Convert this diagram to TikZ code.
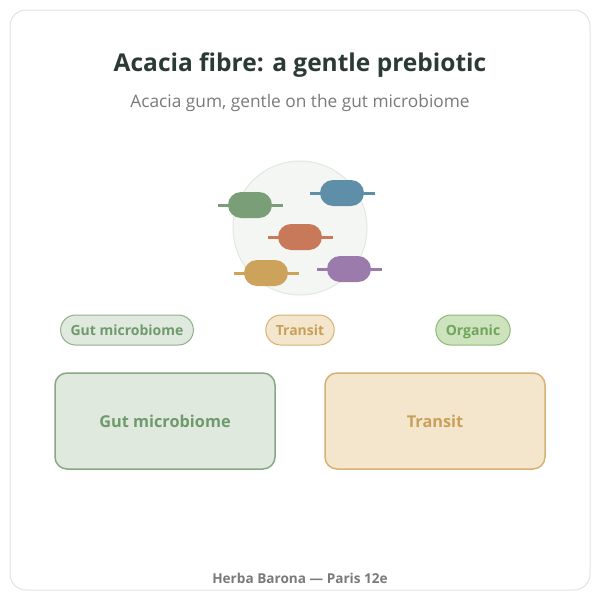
\documentclass[tikz,border=0pt]{standalone}
\usepackage{fontspec}
\setmainfont{Open Sans}
\usetikzlibrary{positioning}
\definecolor{titlecol}{HTML}{2B3A33}
\definecolor{subcol}{HTML}{7A7A7A}
\definecolor{framecol}{HTML}{E2E2E2}
\definecolor{cellfill}{HTML}{F3F6F3}
\definecolor{celledge}{HTML}{E0E8E0}
\definecolor{bgreen}{HTML}{7A9E78}
\definecolor{bblue}{HTML}{5F8EA8}
\definecolor{bred}{HTML}{C8795A}
\definecolor{byellow}{HTML}{CDA35C}
\definecolor{bpurple}{HTML}{9A7BAB}
\definecolor{gutfill}{HTML}{DFE9DE}
\definecolor{gutedge}{HTML}{8FB08C}
\definecolor{guttext}{HTML}{6F9A6C}
\definecolor{trfill}{HTML}{F3E6CC}
\definecolor{tredge}{HTML}{D7B173}
\definecolor{trtext}{HTML}{C9A05A}
\definecolor{orgfill}{HTML}{CDE3BD}
\definecolor{orgedge}{HTML}{8CBB75}
\definecolor{orgtext}{HTML}{6FA45A}
\tikzset{
  pill/.style={draw, line width=1pt, rounded corners=15pt, minimum height=30pt, inner xsep=10pt, text height=12pt, text depth=1pt, font=\fontsize{14}{16}\selectfont\bfseries},
  bigbox/.style={draw, line width=1.5pt, rounded corners=12pt, minimum width=220pt, minimum height=96pt, font=\fontsize{16.3}{19}\selectfont\bfseries},
  bug/.style={rounded corners=13pt, minimum width=44pt, minimum height=26pt, inner sep=0pt}
}
\begin{document}
\begin{tikzpicture}[x=1pt, y=-1pt, line cap=round, line join=round]
  \useasboundingbox (0,0) rectangle (600,600);
  \draw[framecol, line width=1pt, fill=white, rounded corners=16pt] (10,10) rectangle (590,590);
  % heading
  \node[titlecol, font=\fontsize{24.5}{29}\selectfont\bfseries] (title) at (300,65) {Acacia fibre: a gentle prebiotic};
  \node[subcol, font=\fontsize{17.3}{20}\selectfont] (subtitle) at (300,103) {Acacia gum, gentle on the gut microbiome};
  % culture with bacteria
  \filldraw[fill=cellfill, draw=celledge, line width=1pt] (300,228) circle (67);
  \foreach \x/\y/\c in {250/205/bgreen, 342/193/bblue, 300/237/bred, 266/273/byellow, 349/269/bpurple}{
    \draw[\c, line width=3pt, line cap=butt] (\x-32,\y) -- (\x+33,\y);
    \node[bug, fill=\c] (bug\c) at (\x,\y) {};
  }
  % tags
  \node[pill, fill=gutfill, draw=gutedge, text=guttext] (tagGut) at (127,330) {Gut microbiome};
  \node[pill, fill=trfill, draw=tredge, text=trtext] (tagTransit) at (300,330) {Transit};
  \node[pill, fill=orgfill, draw=orgedge, text=orgtext] (tagOrganic) at (473,330) {Organic};
  % panels
  \node[bigbox, fill=gutfill, draw=gutedge!95!black, text=guttext] (boxGut) at (165,421) {Gut microbiome};
  \node[bigbox, fill=trfill, draw=tredge, text=trtext] (boxTransit) at (435,421) {Transit};
  % footer
  \node[subcol, font=\fontsize{13.6}{16}\selectfont\bfseries] (footer) at (300,578) {Herba Barona — Paris 12e};
\end{tikzpicture}
\end{document}
